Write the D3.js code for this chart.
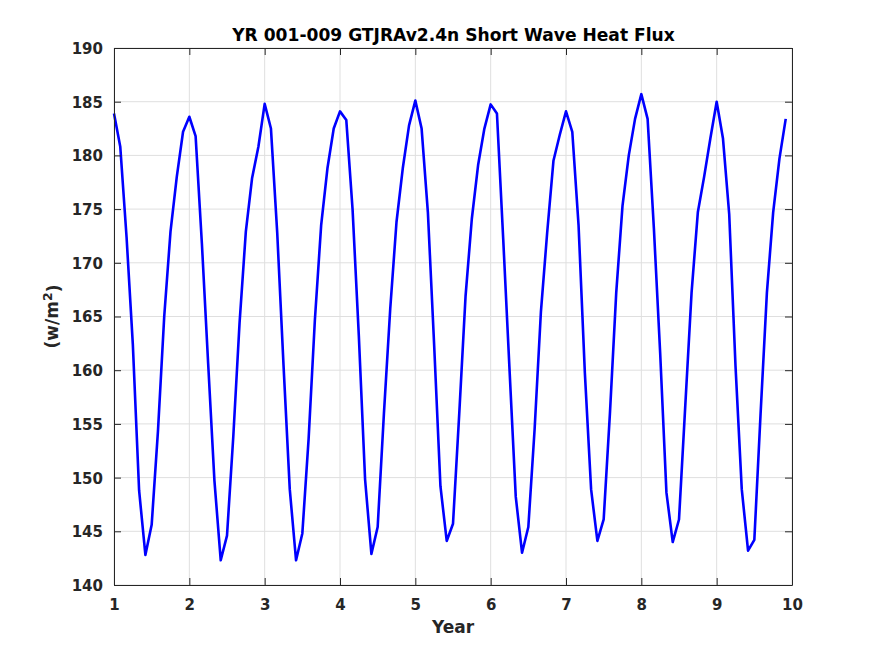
<!DOCTYPE html>
<html><head><meta charset="utf-8">
<script src="https://cdn.jsdelivr.net/npm/d3@7/dist/d3.min.js"></script>
<style>body{margin:0;background:#fff;} svg text{font-family:"DejaVu Sans",sans-serif;font-weight:bold;}</style>
</head><body>
<svg id="c" width="875" height="656"></svg>
<script>
const title = "YR 001-009 GTJRAv2.4n Short Wave Heat Flux";
const xLabel = "Year";
const xTicks = [1,2,3,4,5,6,7,8,9,10];
const yTicks = [140,145,150,155,160,165,170,175,180,185,190];
const startYear = 1;
const monthsPerYear = 12;
// monthly values, year by year
const year1 = [183.9,180.8,172.4,162.4,148.8,142.8,145.6,154.3,165.0,172.9,178.0,182.2];
const year2 = [183.6,181.8,171.8,160.6,149.7,142.3,144.6,153.8,164.4,172.9,177.9,180.8];
const year3 = [184.8,182.5,172.8,160.5,148.9,142.3,144.8,153.6,164.7,173.5,178.8,182.5];
const year4 = [184.1,183.3,175.0,163.2,149.8,142.9,145.4,156.0,165.7,173.8,178.8,182.8];
const year5 = [185.1,182.5,174.7,162.3,149.2,144.1,145.7,156.0,166.9,174.1,179.1,182.5];
const year6 = [184.75,183.9,172.2,160.1,148.2,143.0,145.4,154.5,165.4,172.8,179.5,181.9];
const year7 = [184.1,182.2,173.5,159.8,148.9,144.1,146.1,156.0,167.2,175.3,180.0,183.4];
const year8 = [185.7,183.4,173.2,161.6,148.6,144.0,146.1,156.7,167.2,174.7,178.0,181.6];
const year9 = [185.0,181.6,174.5,160.4,148.9,143.2,144.2,156.0,167.2,174.7,179.7,183.4];
const years = [year1,year2,year3,year4,year5,year6,year7,year8,year9];

const data = [];
years.forEach((vals, yi) => vals.forEach((v, mi) => data.push({x: startYear + yi + mi / monthsPerYear, y: v})));

const svg = d3.select("#c");
const L = 114, R = 792, T = 48, B = 585;
const x = d3.scaleLinear().domain([1,10]).range([L,R]);
const y = d3.scaleLinear().domain([140,190]).range([B,T]);
const axisCol = "#262626";

// grid
const g = svg.append("g");
g.selectAll(".gx").data(xTicks).enter().append("line")
  .attr("x1", d=>x(d)).attr("x2", d=>x(d)).attr("y1", T).attr("y2", B)
  .attr("stroke", "#dfdfdf").attr("stroke-width", 1);
g.selectAll(".gy").data(yTicks).enter().append("line")
  .attr("y1", d=>y(d)).attr("y2", d=>y(d)).attr("x1", L).attr("x2", R)
  .attr("stroke", "#dfdfdf").attr("stroke-width", 1);

// line
svg.append("path").datum(data)
  .attr("fill","none").attr("stroke","#0000ff").attr("stroke-width",2.6)
  .attr("stroke-linejoin","round")
  .attr("d", d3.line().x(d=>x(d.x)).y(d=>y(d.y)));

// axes
function styleAxis(sel){
  sel.select(".domain").attr("stroke", axisCol).attr("stroke-width",1);
  sel.selectAll(".tick line").attr("stroke", axisCol);
  sel.selectAll(".tick text").attr("fill", axisCol).style("font-size","15px").style("font-weight","bold");
}
const xb = svg.append("g").attr("transform",`translate(0,${B})`)
  .call(d3.axisBottom(x).tickValues(xTicks).tickSizeInner(-7).tickSizeOuter(0).tickPadding(14).tickFormat(d3.format("d")));
styleAxis(xb);
const xt = svg.append("g").attr("transform",`translate(0,${T})`)
  .call(d3.axisTop(x).tickValues(xTicks).tickSizeInner(-7).tickSizeOuter(0).tickFormat(""));
styleAxis(xt);
const yl = svg.append("g").attr("transform",`translate(${L},0)`)
  .call(d3.axisLeft(y).tickValues(yTicks).tickSizeInner(-7).tickSizeOuter(0).tickPadding(11).tickFormat(d3.format("d")));
styleAxis(yl);
yl.selectAll(".tick text").attr("dy","0.36em");
const yr = svg.append("g").attr("transform",`translate(${R},0)`)
  .call(d3.axisRight(y).tickValues(yTicks).tickSizeInner(-7).tickSizeOuter(0).tickFormat(""));
styleAxis(yr);

// title and labels
svg.append("text").attr("x",(L+R)/2+0.5).attr("y",41).attr("text-anchor","middle")
  .style("font-size","17.1px").attr("fill","#000").text(title);
svg.append("text").attr("x",(L+R)/2).attr("y",633).attr("text-anchor","middle")
  .style("font-size","17px").attr("fill",axisCol).text(xLabel);
const ylab = svg.append("text").attr("transform",`translate(58,${(T+B)/2}) rotate(-90)`)
  .attr("text-anchor","middle").style("font-size","17px").attr("fill",axisCol);
ylab.append("tspan").text("(w/m");
ylab.append("tspan").attr("dy","-0.5em").style("font-size","12.5px").text("2");
ylab.append("tspan").attr("dy","0.5em").text(")");
</script>
</body></html>
